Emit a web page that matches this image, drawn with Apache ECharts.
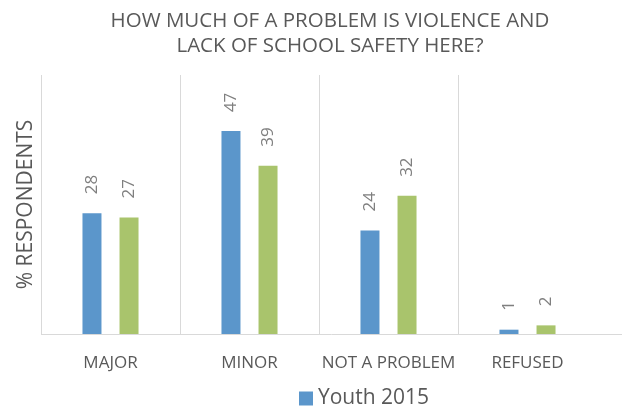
<!DOCTYPE html>
<html>
<head>
<meta charset="utf-8">
<script src="https://cdn.jsdelivr.net/npm/echarts@6/dist/echarts.min.js"></script>
<style>
  html, body { margin: 0; padding: 0; background: #fff; }
  #chart { width: 622px; height: 409px; }
</style>
</head>
<body>
<div id="chart"></div>
<script>
// Survey responses, percent of respondents
const categories = ['MAJOR', 'MINOR', 'NOT A PROBLEM', 'REFUSED'];
const youth2015 = [28, 47, 24, 1];
const secondGroup = [27, 39, 32, 2];

const FONT = 'Open Sans';
const TEXT = '#595959';
const GRID_LINE = '#d9d9d9';

const chart = echarts.init(document.getElementById('chart'), null, { renderer: 'canvas' });

const barLabel = {
  show: true,
  position: 'top',
  rotate: 90,
  align: 'left',
  verticalAlign: 'middle',
  distance: 19,
  color: '#7f7f7f',
  fontFamily: FONT,
  fontSize: 17
};

const GRID = { left: 41, right: 25, top: 75, bottom: 75 };

chart.setOption({
  animation: false,
  backgroundColor: '#fff',
  title: {
    text: 'HOW MUCH OF A PROBLEM IS VIOLENCE AND\nLACK OF SCHOOL SAFETY HERE?',
    left: 330,
    top: 9,
    padding: 0,
    textAlign: 'center',
    textStyle: {
      color: TEXT,
      fontFamily: FONT,
      fontSize: 20.5,
      fontWeight: 'normal',
      lineHeight: 25
    }
  },
  legend: {
    data: ['Youth 2015'],
    top: 388,
    left: 299,
    padding: 0,
    itemWidth: 14,
    itemHeight: 14,
    itemGap: 6,
    icon: 'rect',
    textStyle: { color: TEXT, fontFamily: FONT, fontSize: 21 }
  },
  grid: GRID,
  xAxis: {
    type: 'category',
    data: categories,
    axisLine: { show: false },
    axisTick: { show: false },
    splitLine: { show: true, interval: 0, lineStyle: { color: GRID_LINE } },
    axisLabel: { interval: 0, color: TEXT, fontFamily: FONT, fontSize: 17, margin: 21 }
  },
  yAxis: {
    type: 'value',
    min: 0,
    max: 60,
    name: '% RESPONDENTS',
    nameLocation: 'middle',
    nameGap: 4,
    nameTextStyle: { color: TEXT, fontFamily: FONT, fontSize: 21 },
    axisLine: { show: false },
    axisTick: { show: false },
    axisLabel: { show: false },
    splitLine: { show: false }
  },
  series: [
    {
      name: 'Youth 2015',
      type: 'bar',
      data: youth2015,
      barWidth: 19,
      barGap: '95%',
      itemStyle: { color: '#5b96cb' },
      label: barLabel
    },
    {
      name: 'Group 2015',
      type: 'bar',
      data: secondGroup,
      barWidth: 19,
      itemStyle: { color: '#a9c46c' },
      label: barLabel
    }
  ]
});

// No divider after the last category; the baseline runs from the plot's
// left edge all the way to the right edge of the chart
const w = chart.getWidth();
const h = chart.getHeight();
const xEnd = w - GRID.right;
const yBase = h - GRID.bottom;
chart.setOption({
  graphic: [
    {
      type: 'line',
      shape: { x1: xEnd, y1: GRID.top - 1, x2: xEnd, y2: yBase + 0.5 },
      style: { stroke: '#fff', lineWidth: 3 },
      silent: true
    },
    {
      type: 'line',
      shape: { x1: GRID.left, y1: yBase + 0.5, x2: w, y2: yBase + 0.5 },
      style: { stroke: GRID_LINE, lineWidth: 1 },
      silent: true
    }
  ]
});
</script>
</body>
</html>
